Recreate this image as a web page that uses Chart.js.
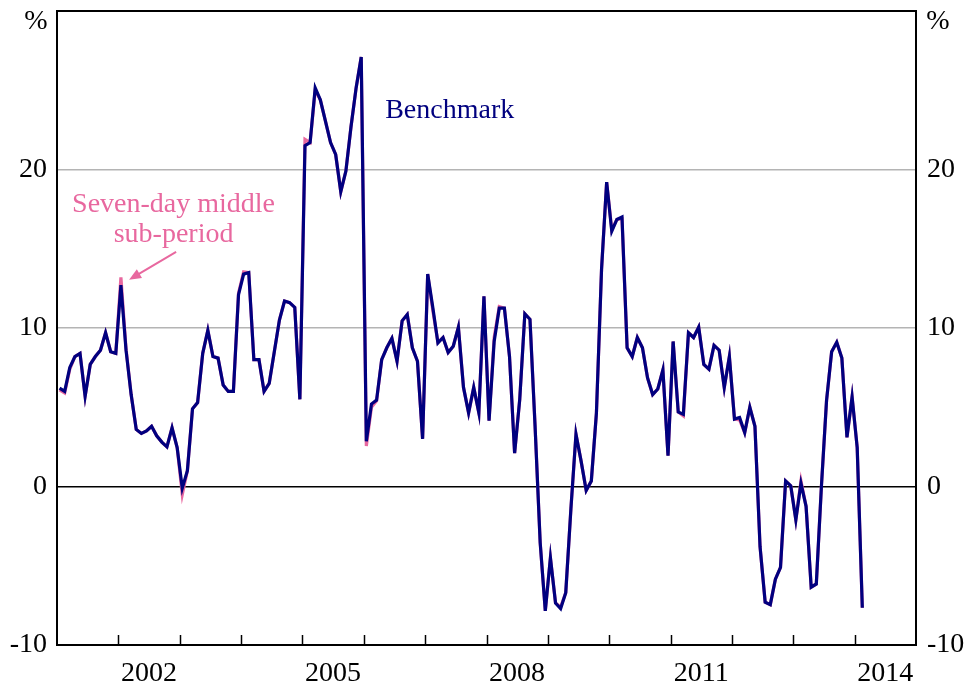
<!DOCTYPE html>
<html lang="en">
<head>
<meta charset="UTF-8">
<title>Benchmark vs seven-day middle sub-period</title>
<style>
  html, body { margin: 0; padding: 0; background: #fff; }
</style>
</head>
<body>
<canvas id="Chart" width="971" height="687"></canvas>

<script src="https://cdn.jsdelivr.net/npm/chart.js"></script>
<script>
// monthly observations, first one is Jan 2001
const startYear = 2001;
const benchmark = [
  6.2, 6.0, 7.5, 8.2, 8.4, 5.7, 7.7, 8.2, 8.6, 9.7, 8.5, 8.4,          // 2001
  12.7, 8.6, 5.8, 3.6, 3.35, 3.5, 3.8, 3.2, 2.8, 2.5, 3.7, 2.45,      // 2002
  -0.1, 1.0, 4.9, 5.3, 8.4, 9.85, 8.2, 8.1, 6.4, 6.0, 6.0, 12.1,      // 2003
  13.4, 13.5, 8.0, 8.0, 6.0, 6.5, 8.5, 10.5, 11.7, 11.6, 11.3, 5.5,   // 2004
  21.5, 21.7, 25.15, 24.4, 23.05, 21.7, 20.95, 18.6, 19.9, 22.7, 25.15, 27.1, // 2005
  2.85, 5.2, 5.45, 8.0, 8.75, 9.35, 7.9, 10.45, 10.85, 8.75, 7.9, 3.0, // 2006
  13.4, 11.3, 9.05, 9.4, 8.45, 8.85, 10.05, 6.25, 4.65, 6.25, 4.65, 12.0, // 2007
  4.15, 9.15, 11.25, 11.25, 8.2, 2.1, 5.5, 10.9, 10.55, 3.8, -3.55, -7.85, // 2008
  -4.5, -7.35, -7.7, -6.7, -1.45, 3.3, 1.6, -0.25, 0.35, 4.65, 13.7, 19.2, // 2009
  16.1, 16.85, 17.0, 8.75, 8.2, 9.4, 8.75, 6.85, 5.8, 6.15, 7.35, 1.95, // 2010
  9.15, 4.7, 4.55, 9.7, 9.4, 10.05, 7.7, 7.4, 8.9, 8.6, 6.25, 8.2,    // 2011
  4.25, 4.35, 3.4, 5.0, 3.8, -3.8, -7.3, -7.45, -5.85, -5.1, 0.35, 0.05, // 2012
  -2.1, 0.2, -1.25, -6.35, -6.15, 0.0, 5.4, 8.5, 9.1, 8.1, 3.1, 5.65, // 2013
  2.45, -7.65                                                          // 2014
];
const sevenDay = [
  6.1, 5.9, 7.4, 8.2, 8.4, 5.7, 7.7, 8.2, 8.6, 9.7, 8.5, 8.4,
  13.2, 8.7, 5.8, 3.6, 3.35, 3.5, 3.8, 3.2, 2.8, 2.5, 3.7, 2.45,
  -0.5, 1.0, 4.9, 5.3, 8.4, 9.85, 8.2, 8.1, 6.4, 6.0, 6.0, 12.2,
  13.55, 13.5, 8.0, 8.0, 6.0, 6.5, 8.5, 10.5, 11.7, 11.6, 11.3, 5.5,
  21.9, 21.7, 25.0, 24.4, 23.05, 21.7, 20.95, 18.6, 19.9, 22.7, 25.15, 27.1,
  2.55, 5.0, 5.4, 8.0, 8.75, 9.35, 7.9, 10.45, 10.85, 8.75, 7.9, 3.0,
  13.4, 11.1, 9.1, 9.4, 8.45, 8.85, 10.05, 6.25, 4.65, 6.25, 4.65, 12.0,
  4.15, 9.4, 11.35, 11.25, 8.2, 2.1, 5.5, 10.9, 10.55, 3.8, -3.55, -7.85,
  -4.5, -7.35, -7.6, -6.7, -1.45, 3.3, 1.6, -0.25, 0.35, 4.65, 13.7, 19.2,
  16.2, 16.85, 16.9, 8.75, 8.2, 9.4, 8.75, 6.85, 5.8, 6.15, 7.35, 1.95,
  9.15, 4.7, 4.45, 9.7, 9.4, 10.05, 7.7, 7.4, 8.9, 8.6, 6.25, 8.2,
  4.25, 4.2, 3.4, 5.0, 3.8, -3.8, -7.3, -7.45, -5.85, -5.1, 0.35, 0.05,
  -2.1, 0.35, -1.25, -6.35, -6.15, 0.0, 5.4, 8.5, 9.1, 8.1, 3.1, 5.65,
  2.45, -7.65
];
const yearLabels = ['2002', '2005', '2008', '2011', '2014'];
const yMin = -10, yMax = 30, yStep = 10;

const navy = '#00007f';
const pink = '#e8689f';
const serif = "'Liberation Serif', 'Times New Roman', serif";

// x is months since Jan 2001, points sit mid-month
function toPoints(values) {
  return values.map((v, i) => ({ x: i + 0.5, y: v }));
}

const extras = {
  id: 'extras',
  afterDatasetsDraw(chart) {
    const ctx = chart.ctx;
    const area = chart.chartArea;
    const x = chart.scales.x;
    const y = chart.scales.y;
    ctx.save();

    // year ticks, pointing inward from the bottom axis
    ctx.strokeStyle = '#000';
    ctx.lineWidth = 1.5;
    for (let m = 12; m < 168; m += 12) {
      const px = Math.round(x.getPixelForValue(m)) + 0.5;
      ctx.beginPath();
      ctx.moveTo(px, area.bottom);
      ctx.lineTo(px, area.bottom - 10);
      ctx.stroke();
    }

    // frame
    ctx.lineWidth = 2;
    ctx.strokeRect(area.left, area.top, area.right - area.left, area.bottom - area.top);

    // unit labels
    ctx.fillStyle = '#000';
    ctx.font = '28px ' + serif;
    ctx.textBaseline = 'middle';
    ctx.textAlign = 'center';
    ctx.fillText('%', area.left - 21, area.top + 11);
    ctx.fillText('%', area.right + 22, area.top + 11);

    // series labels
    ctx.fillStyle = navy;
    ctx.fillText('Benchmark', x.getPixelForValue(76.8), y.getPixelForValue(23.7));
    ctx.fillStyle = pink;
    ctx.fillText('Seven-day middle', x.getPixelForValue(22.8), y.getPixelForValue(17.8));
    ctx.fillText('sub-period', x.getPixelForValue(22.8), y.getPixelForValue(15.9));

    // arrow to the Jan 2002 spike
    const x0 = x.getPixelForValue(23.3), y0 = y.getPixelForValue(14.8);
    const x1 = x.getPixelForValue(14.1), y1 = y.getPixelForValue(13.05);
    const ang = Math.atan2(y1 - y0, x1 - x0);
    ctx.strokeStyle = pink;
    ctx.lineWidth = 2;
    ctx.beginPath();
    ctx.moveTo(x0, y0);
    ctx.lineTo(x1 - 8 * Math.cos(ang), y1 - 8 * Math.sin(ang));
    ctx.stroke();
    ctx.beginPath();
    ctx.moveTo(x1, y1);
    ctx.lineTo(x1 - 13 * Math.cos(ang - 0.4), y1 - 13 * Math.sin(ang - 0.4));
    ctx.lineTo(x1 - 13 * Math.cos(ang + 0.4), y1 - 13 * Math.sin(ang + 0.4));
    ctx.closePath();
    ctx.fillStyle = pink;
    ctx.fill();

    ctx.restore();
  }
};

function yTickLabel(value) {
  return value === yMax ? '' : String(value);
}

// keep the vertical axes from reserving room for half a label at the top
function fitY(width) {
  return (s) => {
    s.width = width;
    s.paddingTop = 0;
    s.paddingBottom = 0;
  };
}

const ctx = document.getElementById('Chart').getContext('2d');
const chart = new Chart(ctx, {
  type: 'line',
  data: {
    datasets: [
      {
        label: 'Benchmark',
        data: toPoints(benchmark),
        borderColor: navy,
        borderWidth: 3.2,
        pointRadius: 0,
        tension: 0,
        fill: false,
        order: 0
      },
      {
        label: 'Seven-day middle sub-period',
        data: toPoints(sevenDay),
        borderColor: pink,
        borderWidth: 3.2,
        pointRadius: 0,
        tension: 0,
        fill: false,
        order: 1
      }
    ]
  },
  options: {
    responsive: false,
    animation: false,
    devicePixelRatio: 1,
    layout: { padding: { top: 11, left: 0, right: 0, bottom: 0 } },
    plugins: {
      legend: { display: false },
      tooltip: { enabled: false }
    },
    scales: {
      x: {
        type: 'linear',
        min: 0,
        max: 168,
        afterFit: (s) => { s.height = 42; s.paddingLeft = 0; s.paddingRight = 0; },
        grid: { display: false, drawTicks: false },
        border: { display: false },
        ticks: {
          stepSize: 12,
          autoSkip: false,
          maxRotation: 0,
          padding: 12,
          labelOffset: 30.6,
          color: '#000',
          font: { family: serif, size: 28 },
          callback: (v) => {
            const yr = startYear + v / 12;
            return yearLabels.includes(String(yr)) ? String(yr) : '';
          }
        }
      },
      y: {
        position: 'left',
        min: yMin,
        max: yMax,
        afterFit: fitY(57),
        border: { display: false },
        grid: {
          drawTicks: false,
          lineWidth: 1.5,
          color: (c) => {
            const v = c.tick.value;
            if (v === 0) return '#000';
            if (v === yMin || v === yMax) return 'rgba(0,0,0,0)';
            return '#b4b4b4';
          }
        },
        ticks: {
          stepSize: yStep,
          padding: 10,
          color: '#000',
          font: { family: serif, size: 28 },
          callback: yTickLabel
        }
      },
      y2: {
        position: 'right',
        min: yMin,
        max: yMax,
        afterFit: fitY(55),
        border: { display: false },
        grid: { display: false, drawTicks: false },
        ticks: {
          stepSize: yStep,
          padding: 11,
          color: '#000',
          font: { family: serif, size: 28 },
          callback: yTickLabel
        }
      }
    }
  },
  plugins: [extras]
});
</script>
</body>
</html>
